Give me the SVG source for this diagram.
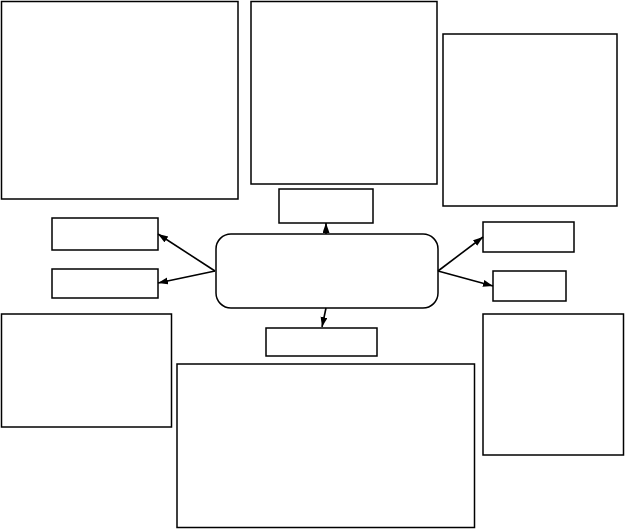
<svg xmlns="http://www.w3.org/2000/svg" width="625" height="529" viewBox="0 0 625 529">
<style>
.b{fill:#fff;stroke:#000;stroke-width:1.5}
.c{fill:none;stroke:#000;stroke-width:1.6}
</style>
<defs>
<marker id="ah" markerUnits="userSpaceOnUse" markerWidth="12" markerHeight="10" refX="10" refY="3.5" orient="auto">
<path d="M0,0 L10,3.5 L0,7 Z" fill="#000"/>
</marker>
</defs>
<rect width="625" height="529" fill="#fff"/>
<g id="n-top-left"><rect class="b" x="1.5" y="1.5" width="236.5" height="197.5"/></g>
<g id="n-top-center"><rect class="b" x="251" y="1.5" width="186" height="182.5"/></g>
<g id="n-top-right"><rect class="b" x="443" y="34" width="174" height="172"/></g>
<g id="n-above-center"><rect class="b" x="279" y="189" width="94" height="34"/></g>
<g id="n-left1"><rect class="b" x="52" y="218" width="106" height="32"/></g>
<g id="n-left2"><rect class="b" x="52" y="269" width="106" height="29"/></g>
<g id="n-right1"><rect class="b" x="483" y="222" width="91" height="30"/></g>
<g id="n-right2"><rect class="b" x="493" y="271" width="73" height="30"/></g>
<g id="n-center"><rect class="b" x="216" y="234" width="222" height="74" rx="15" ry="15"/></g>
<g id="n-bottom-left"><rect class="b" x="1.5" y="314" width="170" height="113"/></g>
<g id="n-below-center"><rect class="b" x="266" y="328" width="111" height="28"/></g>
<g id="n-bottom-center"><rect class="b" x="177" y="364" width="297.5" height="163.5"/></g>
<g id="n-bottom-right"><rect class="b" x="483" y="314" width="140.5" height="141"/></g>
<g id="connectors">
<line class="c" x1="215" y1="271" x2="158" y2="234" marker-end="url(#ah)"/>
<line class="c" x1="215" y1="271" x2="158" y2="283" marker-end="url(#ah)"/>
<line class="c" x1="326" y1="234" x2="326" y2="223" marker-end="url(#ah)"/>
<line class="c" x1="438" y1="271" x2="483" y2="237" marker-end="url(#ah)"/>
<line class="c" x1="438" y1="271" x2="493" y2="286" marker-end="url(#ah)"/>
<line class="c" x1="326" y1="308" x2="322" y2="327" marker-end="url(#ah)"/>
</g>
</svg>
